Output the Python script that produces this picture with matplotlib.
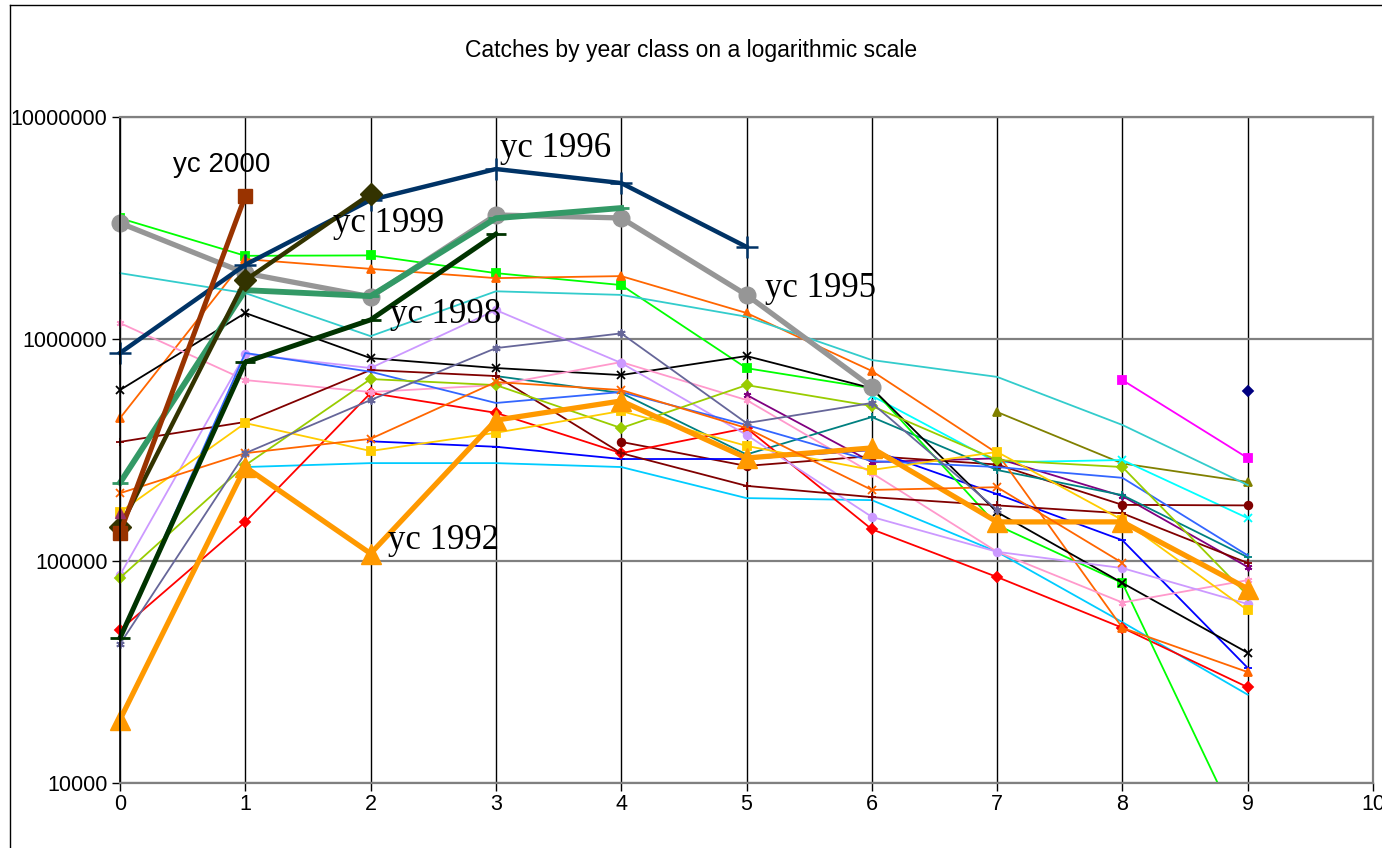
import numpy as np
import matplotlib
matplotlib.use("Agg")
import matplotlib.pyplot as plt
from matplotlib.lines import Line2D
from matplotlib.ticker import FixedLocator, FixedFormatter, NullLocator

plt.rcParams['font.family'] = ['Liberation Sans', 'DejaVu Sans']

nan = np.nan
ages = np.arange(10)

# catches per year class, by age 0..9 (nan = no data)
yc1972 = [nan] * 9 + [583000]
yc1973 = [nan] * 8 + [653000, 291000]
yc1974 = [nan] * 7 + [469000, 275000, 227000]
yc1975 = [nan] * 6 + [555000, 278000, 285000, 156000]
yc1976 = [nan] * 5 + [560000, 279000, 290000, 196000, 94000]
yc1977 = [nan] * 4 + [344000, 268000, 297000, 272000, 179000, 178000]
yc1978 = [nan] * 3 + [681000, 571000, 302000, 445000, 257000, 198000, 104000]
yc1979 = [nan] * 2 + [346000, 327000, 288000, 288000, 316000, 200000, 124000, 33000]
yc1980 = [nan] + [265000, 276000, 276000, 265000, 192000, 188000, 110000, 53000, 25000]
yc1981 = [48900, 150000, 571000, 465000, 306000, 397000, 139000, 84700, 50000, 27000]
yc1982 = [3500000, 2370000, 2380000, 1980000, 1750000, 739000, 600000, 145000, 79600, 5200]
yc1983 = [440000, 2290000, 2070000, 1880000, 1920000, 1310000, 718000, 306000, 50000, 31600]
yc1984 = [589000, 1310000, 820000, 740000, 688000, 838000, 600000, 166000, 79600, 38600]
yc1985 = [1180000, 653000, 577000, 620000, 787000, 531000, 249000, 110000, 65000, 82000]
yc1986 = [86500, 856000, 740000, 1350000, 780000, 370000, 158000, 110000, 92900, 64000]
yc1987 = [344000, 423000, 725000, 681000, 306000, 218000, 194000, 178000, 164000, 98000]
yc1988 = [45000, 865000, 712000, 515000, 577000, 410000, 282000, 265000, 237000, 106000]
yc1989 = [1980000, 1610000, 1030000, 1640000, 1580000, 1260000, 804000, 675000, 410000, 220000]
yc1990 = [84000, 270000, 660000, 620000, 397000, 620000, 499000, 285000, 265000, 70000]
yc1991 = [166000, 418000, 313000, 378000, 474000, 330000, 257000, 310000, 153000, 60000]
yc1992 = [19300, 265000, 108000, 431000, 526000, 291000, 323000, 150000, 150000, 75000]
yc1993 = [202000, 306000, 355000, 640000, 589000, 397000, 209000, 215000, 98000, nan]
yc1994 = [42300, 306000, 531000, 910000, 1060000, 418000, 515000, 170000, nan, nan]
yc1995 = [3330000, 1980000, 1550000, 3620000, 3510000, 1580000, 608000] + [nan] * 3
yc1996 = [865000, 2160000, 4230000, 5830000, 5040000, 2600000] + [nan] * 4
yc1997 = [225000, 1660000, 1560000, 3500000, 3890000] + [nan] * 5
yc1998 = [45000, 787000, 1220000, 2970000] + [nan] * 6
yc1999 = [142000, 1840000, 4500000] + [nan] * 7
yc2000 = [134000, 4410000] + [nan] * 8
yc2001 = [164000] + [nan] * 9

ytick_vals = [10000, 100000, 1000000, 10000000]
ytick_labels = ['10000', '100000', '1000000', '10000000']

ast = (6, 2, 0)
thin = [
    (yc1972, '#000080', 'D'), (yc1973, '#FF00FF', 's'), (yc1974, '#808000', '^'),
    (yc1975, '#00FFFF', 'x'), (yc1976, '#800080', ast), (yc1977, '#800000', 'o'),
    (yc1978, '#008080', '+'), (yc1979, '#0000FF', '_'), (yc1980, '#00CCFF', None),
    (yc1981, '#FF0000', 'D'), (yc1982, '#00FF00', 's'), (yc1983, '#FF6600', '^'),
    (yc1984, '#000000', 'x'), (yc1985, '#FF99CC', ast), (yc1986, '#CC99FF', 'o'),
    (yc1987, '#800000', '+'), (yc1988, '#3366FF', None), (yc1989, '#33CCCC', None),
    (yc1990, '#99CC00', 'D'), (yc1991, '#FFCC00', 's'),
]

fig = plt.figure(figsize=(13.82, 8.48), dpi=100)
ax = fig.add_axes([120 / 1382, 1 - 783 / 848, 1253 / 1382, 666 / 848])

for vals, col, mk in thin:
    # the 1982 line drops below the axis at age 9, so keep it clipped
    ax.plot(ages, vals, color=col, lw=1.3, marker=mk, ms=5.5, mew=1.3,
            clip_on=(vals is yc1982))

big = dict(clip_on=False)
ax.plot(ages, yc1992, color='#FF9900', lw=3.8, marker='^', ms=14, **big)
ax.plot(ages, yc1993, color='#FF6600', lw=1.3, marker='x', ms=6, mew=1.3, **big)
ax.plot(ages, yc1994, color='#666699', lw=1.3, marker=ast, ms=6, mew=1.3, **big)
ax.plot(ages, yc1995, color='#969696', lw=3.8, marker='o', ms=12, **big)
ax.plot(ages, yc1996, color='#003366', lw=3.2, marker='+', ms=16, mew=1.8, **big)
ax.plot(ages, yc1997, color='#339966', lw=4.2, marker='_', ms=12, mew=2, **big)
ax.plot(ages, yc1998, color='#003300', lw=3.6, marker='_', ms=14, mew=2, **big)
ax.plot(ages, yc1999, color='#333300', lw=3.2, marker='D', ms=11, **big)
ax.plot(ages, yc2000, color='#993300', lw=3.6, marker='s', ms=10, **big)
ax.plot(ages, yc2001, color='#993366', lw=1.3, marker='^', ms=7, **big)

ax.set_yscale('log')
ax.set_xlim(0, 10)
ax.set_ylim(10000, 10000000)
ax.set_xticks(range(11))
ax.yaxis.set_major_locator(FixedLocator(ytick_vals))
ax.yaxis.set_major_formatter(FixedFormatter(ytick_labels))
ax.yaxis.set_minor_locator(NullLocator())
ax.tick_params(axis='both', direction='out', length=6, width=1, labelsize=15.5, colors='black')
ax.tick_params(axis='x', pad=2)
ax.tick_params(axis='y', pad=3)

ax.grid(axis='x', color='black', lw=1)
ax.grid(axis='y', color='#808080', lw=1.6)
ax.set_axisbelow(True)
for s in ['top', 'right', 'bottom']:
    ax.spines[s].set_color('#808080')
    ax.spines[s].set_linewidth(1.6)
ax.spines['left'].set_color('black')
ax.spines['left'].set_linewidth(1.2)

serif = ['Liberation Serif', 'DejaVu Serif']
ax.text(0.814, 6.08e6, 'yc 2000', fontsize=20, ha='center', va='center')
ax.text(3.03, 7.2e6, 'yc 1996', fontsize=25, family=serif, va='center')
ax.text(1.70, 3.3e6, 'yc 1999', fontsize=25, family=serif, va='center')
ax.text(2.155, 1.29e6, 'yc 1998', fontsize=25, family=serif, va='center')
ax.text(5.148, 1.68e6, 'yc 1995', fontsize=25, family=serif, va='center')
ax.text(2.139, 1.24e5, 'yc 1992', fontsize=25, family=serif, va='center')

fig.text(0.5, 1 - 50 / 848, 'Catches by year class on a logarithmic scale',
         ha='center', va='center', fontsize=16.5)

# chart area border
fig.add_artist(Line2D([10 / 1382, 10 / 1382], [0, 1 - 5 / 848], color='black', lw=1,
                      transform=fig.transFigure))
fig.add_artist(Line2D([10 / 1382, 1], [1 - 5 / 848, 1 - 5 / 848], color='black', lw=1,
                      transform=fig.transFigure))

fig.savefig('out.png', dpi=100)
